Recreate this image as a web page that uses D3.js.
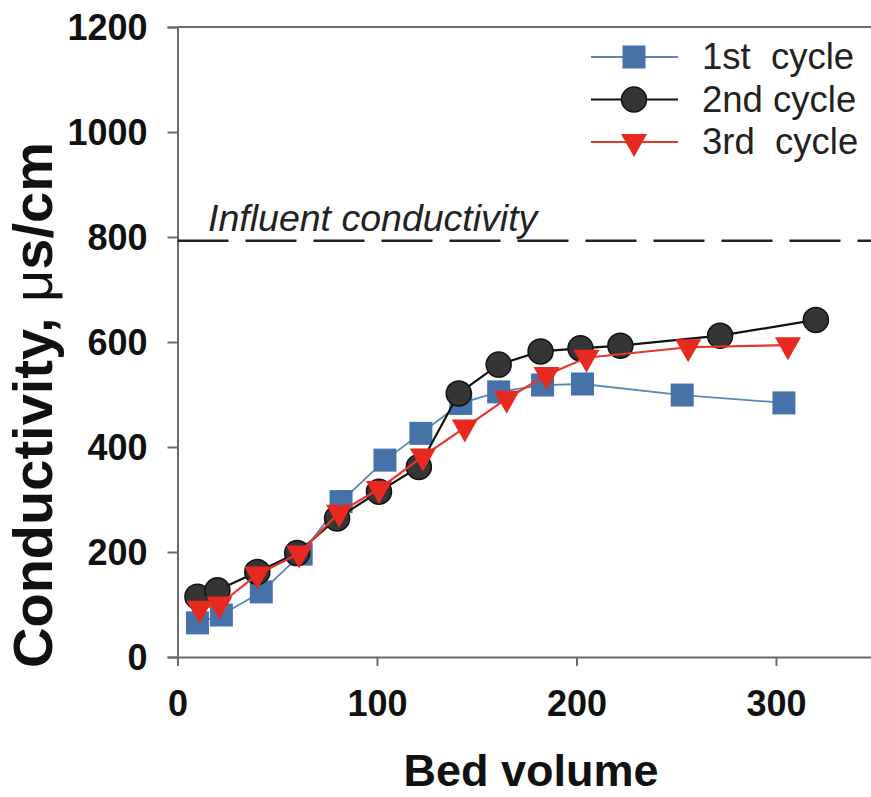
<!DOCTYPE html>
<html>
<head>
<meta charset="utf-8">
<script src="https://cdn.jsdelivr.net/npm/d3@7"></script>
<style>
  body { margin: 0; background: #fff; }
  text { font-family: "Liberation Sans", Arial, sans-serif; }
</style>
</head>
<body>
<script>
// Bed volume / conductivity readings for each cycle
var bv1 = [10, 22, 42, 62, 82, 104, 122, 142, 161, 183, 203, 253, 304];
var c1  = [65, 80, 124, 196, 296, 375, 426, 483, 505, 518, 520, 499, 484];

var bv2 = [10, 20, 40, 60, 80, 101, 121, 141, 161, 182, 202, 222, 272, 320];
var c2  = [115, 127, 162, 198, 264, 315, 362, 502, 557, 582, 588, 593, 612, 642];

var bv3 = [11, 21, 40, 61, 81, 101, 123, 144, 165, 185, 205, 256, 306];
var c3  = [92, 100, 157, 197, 275, 320, 382, 437, 492, 537, 570, 590, 594];

var seriesNames = ["1st  cycle", "2nd cycle", "3rd  cycle"];
var influent = 793;
var xTicks = [0, 100, 200, 300];
var yTicks = [0, 200, 400, 600, 800, 1000, 1200];

var w = 871, h = 797;

var svg = d3.select("body").append("svg")
  .attr("width", w)
  .attr("height", h);

var xScale = d3.scaleLinear().domain([0, 350]).range([177.5, 875.7]);
var yScale = d3.scaleLinear().domain([0, 1200]).range([657, 27]);

var axisColor = "#6a6a6a";

// top frame line
svg.append("line")
  .attr("x1", xScale(0)).attr("x2", xScale(350))
  .attr("y1", yScale(1200)).attr("y2", yScale(1200))
  .attr("stroke", axisColor).attr("stroke-width", 2);

// axes
var xAxis = svg.append("g")
  .attr("transform", `translate(0, ${yScale(0)})`)
  .call(d3.axisBottom(xScale).tickValues(xTicks).tickFormat(d3.format("d")).tickSize(9).tickPadding(24));

var yAxis = svg.append("g")
  .attr("transform", `translate(${xScale(0)}, 0)`)
  .call(d3.axisLeft(yScale).tickValues(yTicks).tickFormat(d3.format("d")).tickSize(10).tickPadding(20));

[xAxis, yAxis].forEach(function(a) {
  a.select(".domain").attr("stroke", axisColor).attr("stroke-width", 2);
  a.selectAll(".tick line").attr("stroke", axisColor).attr("stroke-width", 2);
  a.selectAll(".tick text")
    .attr("fill", "#111")
    .style("font-size", "36px")
    .style("font-weight", "bold")
    .style("font-family", "'Liberation Sans', Arial, sans-serif");
});
yAxis.selectAll(".tick text").attr("dy", "0.36em");
xAxis.selectAll(".tick text").attr("dy", "0.71em");

// influent conductivity dashed line
svg.append("line")
  .attr("x1", xScale(0)).attr("x2", xScale(350))
  .attr("y1", yScale(influent)).attr("y2", yScale(influent))
  .attr("stroke", "#222").attr("stroke-width", 2.5)
  .attr("stroke-dasharray", "51 17");

svg.append("text")
  .attr("x", 208)
  .attr("y", 231)
  .style("font-size", "37.5px")
  .style("font-style", "italic")
  .attr("fill", "#222")
  .text("Influent conductivity");

// axis titles
svg.append("text")
  .attr("x", 531)
  .attr("y", 786)
  .attr("text-anchor", "middle")
  .style("font-size", "45px")
  .style("font-weight", "bold")
  .attr("fill", "#111")
  .text("Bed volume");

var yTitle = svg.append("text")
  .attr("transform", "translate(52, 405) rotate(-90)")
  .attr("text-anchor", "middle")
  .style("font-size", "56px")
  .style("font-weight", "bold")
  .attr("fill", "#111");
yTitle.append("tspan").text("Conductivity, ");
yTitle.append("tspan").style("font-weight", "normal").text("\u03bc");
yTitle.append("tspan").text("s/cm");

// series
var series = [
  {name: seriesNames[0], x: bv1, y: c1, line: "#5b86b8", lw: 1.8, fill: "#4672aa", stroke: "#4672aa", shape: "square"},
  {name: seriesNames[1], x: bv2, y: c2, line: "#111", lw: 2.2, fill: "#353535", stroke: "#111", shape: "circle"},
  {name: seriesNames[2], x: bv3, y: c3, line: "#e8352d", lw: 2.2, fill: "#e8291f", stroke: "#e8291f", shape: "triangle"}
];

var line = d3.line()
  .x(d => xScale(d[0]))
  .y(d => yScale(d[1]));

function marker(g, s) {
  if (s.shape === "square") {
    g.append("rect")
      .attr("x", -11.5).attr("y", -11.5)
      .attr("width", 23).attr("height", 23)
      .attr("fill", s.fill);
  } else if (s.shape === "circle") {
    g.append("circle")
      .attr("r", 12.5)
      .attr("fill", s.fill)
      .attr("stroke", s.stroke)
      .attr("stroke-width", 1.5);
  } else {
    g.append("path")
      .attr("d", "M-13,-8 L13,-8 L0,15 Z")
      .attr("fill", s.fill);
  }
}

series.forEach(function(s) {
  var pts = s.x.map((v, i) => [v, s.y[i]]);
  svg.append("path")
    .datum(pts)
    .attr("fill", "none")
    .attr("stroke", s.line)
    .attr("stroke-width", s.lw)
    .attr("d", line);

  svg.append("g").selectAll("g")
    .data(pts)
    .enter()
    .append("g")
    .attr("transform", d => `translate(${xScale(d[0])}, ${yScale(d[1])})`)
    .each(function() { marker(d3.select(this), s); });
});

// legend
var legend = svg.append("g");
series.forEach(function(s, i) {
  var ly = 57 + i * 42.5;
  legend.append("line")
    .attr("x1", 591).attr("x2", 678)
    .attr("y1", ly).attr("y2", ly)
    .attr("stroke", s.line).attr("stroke-width", s.lw);
  var m = legend.append("g").attr("transform", `translate(634, ${ly})`);
  marker(m, s);
  legend.append("text")
    .attr("x", 702)
    .attr("y", ly + 12)
    .style("font-size", "36.5px")
    .attr("fill", "#222")
    .style("white-space", "pre")
    .attr("xml:space", "preserve")
    .text(s.name);
});
</script>
</body>
</html>
